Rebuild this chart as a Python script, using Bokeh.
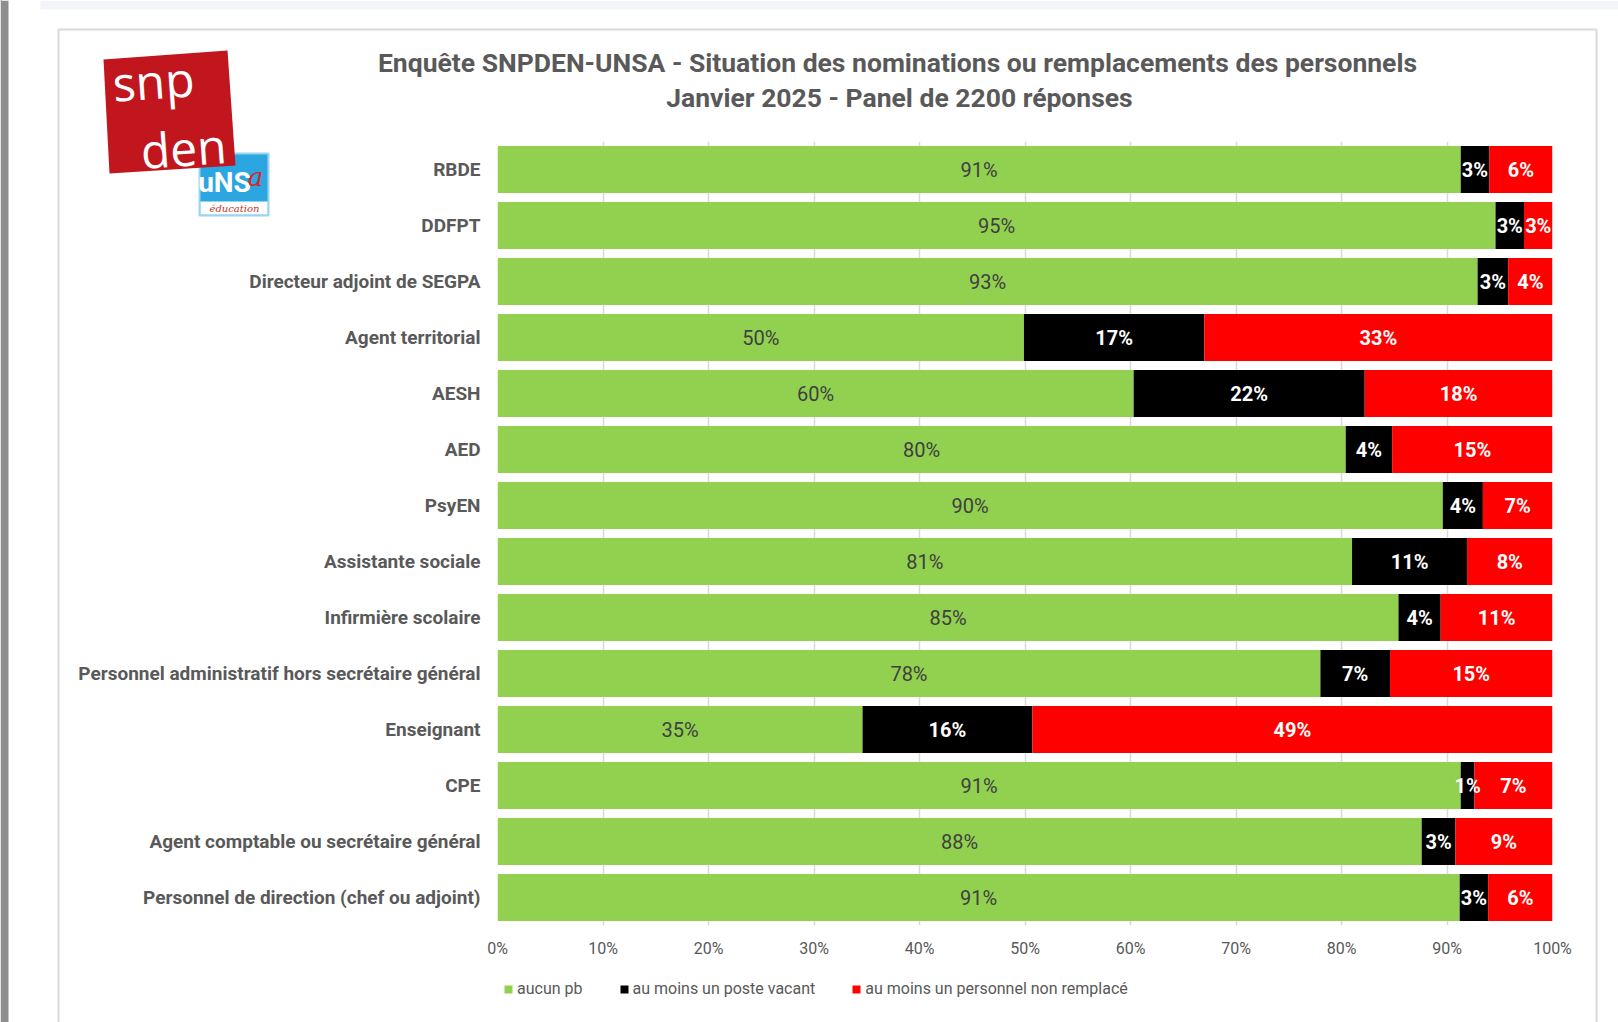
from bokeh.plotting import figure
from bokeh.models import (FactorRange, Range1d, ColumnDataSource, Legend, LegendItem,
                          FixedTicker, NumeralTickFormatter)
from bokeh.core.properties import value
from bokeh.embed import file_html
from bokeh.resources import INLINE

# ---------------- data ----------------
categories = [
    "RBDE",
    "DDFPT",
    "Directeur adjoint de SEGPA",
    "Agent territorial",
    "AESH",
    "AED",
    "PsyEN",
    "Assistante sociale",
    "Infirmière scolaire",
    "Personnel administratif hors secrétaire général",
    "Enseignant",
    "CPE",
    "Agent comptable ou secrétaire général",
    "Personnel de direction (chef ou adjoint)",
]
aucun_pb = [91.3, 94.6, 92.9, 49.9, 60.3, 80.4, 89.6, 81.0, 85.4, 78.0, 34.6, 91.3, 87.6, 91.2]
poste_vacant = [2.7, 2.7, 2.9, 17.1, 21.9, 4.4, 3.8, 10.9, 4.0, 6.6, 16.1, 1.3, 3.2, 2.7]
non_remplace = [6.0, 2.7, 4.2, 33.0, 17.8, 15.2, 6.6, 8.1, 10.6, 15.4, 49.3, 7.4, 9.2, 6.1]
series_names = ["aucun pb", "au moins un poste vacant", "au moins un personnel non remplacé"]
x_ticks = [0, 0.1, 0.2, 0.3, 0.4, 0.5, 0.6, 0.7, 0.8, 0.9, 1.0]
title_line1 = "Enquête SNPDEN-UNSA - Situation des nominations ou remplacements des personnels"
title_line2 = "Janvier 2025 - Panel de 2200 réponses"

# ---------------- derived columns ----------------
a = [v / 100 for v in aucun_pb]
b = [v / 100 for v in poste_vacant]
c = [v / 100 for v in non_remplace]
src = ColumnDataSource(dict(
    cat=categories, a=a, b=b, c=c,
    ax=[x / 2 for x in a],
    bx=[x + y / 2 for x, y in zip(a, b)],
    cx=[x + y + z / 2 for x, y, z in zip(a, b, c)],
    al=[f"{v:.0f}%" for v in aucun_pb],
    bl=[f"{v:.0f}%" for v in poste_vacant],
    cl=[f"{v:.0f}%" for v in non_remplace],
))

GREEN, BLACK, RED = "#92D050", "#000000", "#FF0000"
COLORS = [GREEN, BLACK, RED]
GRAY = "#595959"
W, H = 1618, 1022

# ---------------- main chart ----------------
p = figure(width=W, height=H,
           y_range=FactorRange(factors=categories[::-1]),
           x_range=Range1d(0, 1),
           output_backend="svg", toolbar_location=None,
           min_border_left=497, min_border_right=66,
           min_border_top=141, min_border_bottom=97)
p.outline_line_color = None
p.background_fill_color = "white"
p.border_fill_color = "white"

renderers = p.hbar_stack(["a", "b", "c"], y="cat", height=0.84,
                         color=COLORS, line_color=None, source=src)

p.text(x="ax", y="cat", text="al", source=src, text_align="center", text_baseline="middle",
       text_font=value("Roboto"), text_font_size="20px", text_color="#404040")
p.text(x="bx", y="cat", text="bl", source=src, text_align="center", text_baseline="middle",
       text_font=value("Roboto"), text_font_size="20px", text_color="white", text_font_style="bold")
p.text(x="cx", y="cat", text="cl", source=src, text_align="center", text_baseline="middle",
       text_font=value("Roboto"), text_font_size="20px", text_color="white", text_font_style="bold")

p.xaxis.ticker = FixedTicker(ticks=x_ticks)
p.xaxis.formatter = NumeralTickFormatter(format="0%")
p.xaxis.axis_line_color = None
p.xaxis.major_tick_line_color = None
p.xaxis.minor_tick_line_color = None
p.xaxis.major_tick_out = 0
p.xaxis.major_tick_in = 0
p.xaxis.major_label_text_font = "Roboto"
p.xaxis.major_label_text_font_size = "16px"
p.xaxis.major_label_text_color = GRAY
p.xaxis.major_label_standoff = 13

p.yaxis.axis_line_color = None
p.yaxis.major_tick_line_color = None
p.yaxis.minor_tick_line_color = None
p.yaxis.major_tick_out = 0
p.yaxis.major_tick_in = 0
p.yaxis.major_label_text_font = "Roboto"
p.yaxis.major_label_text_font_style = "bold"
p.yaxis.major_label_text_font_size = "19px"
p.yaxis.major_label_text_color = GRAY
p.yaxis.major_label_standoff = 17

p.xgrid.grid_line_color = "#D9D9D9"
p.xgrid.grid_line_width = 1.5
p.ygrid.grid_line_color = None

# ---------------- decoration overlay (pixel space, y downward) ----------------
ov = figure(width=W, height=H, x_range=Range1d(0, W), y_range=Range1d(H, 0),
            output_backend="svg", toolbar_location=None, min_border=0,
            x_axis_location=None, y_axis_location=None,
            styles={"position": "absolute", "left": "0px", "top": "0px"})
ov.xgrid.visible = False
ov.ygrid.visible = False
ov.outline_line_color = None
ov.background_fill_alpha = 0
ov.border_fill_alpha = 0

# page edges of the screenshot
ov.quad(left=[0], right=[8], top=[0], bottom=[H], fill_color="#8E8E8E", line_color=None)
ov.quad(left=[40], right=[W], top=[0], bottom=[9], fill_color="#F4F5FA", line_color=None)
# chart panel border
ov.line(x=[58, 58, 1596, 1596], y=[H + 5, 29, 29, H + 5], line_color="#D9D9D9", line_width=2)

# title
ov.text(x=[897, 899], y=[62, 97], text=[title_line1, title_line2],
        text_align="center", text_baseline="middle", text_font=value("Roboto"),
        text_font_style="bold", text_font_size="26.5px", text_color=GRAY)

# logo unsa education (behind the red square)
ov.quad(left=[199], right=[268], top=[153], bottom=[215], fill_color="#2CA6E0",
        line_color="#9AD4F2", line_width=2)
ov.quad(left=[200], right=[267], top=[201], bottom=[214], fill_color="white", line_color=None)
ov.text(x=[224], y=[182], text=["uNS"], text_align="center", text_baseline="middle",
        text_font=value("Roboto"), text_font_style="bold",
        text_font_size="28px", text_color="white")
ov.text(x=[255], y=[176], text=["a"], text_align="center", text_baseline="middle",
        text_font=value("DejaVu Serif"), text_font_style="italic",
        text_font_size="26px", text_color="#D8232A")
ov.text(x=[234], y=[208], text=["éducation"], text_align="center", text_baseline="middle",
        text_font=value("DejaVu Serif"), text_font_style="italic", text_font_size="10px",
        text_color="#C0392B")
# logo snpden
ov.patch(x=[103, 227, 235, 109], y=[59, 50, 165, 173], fill_color="#C1161D", line_color=None)
ov.text(x=[153, 183], y=[80, 147], text=["snp", "den"], angle=0.07,
        text_align="center", text_baseline="middle", text_font=value("Open Sans"),
        text_font_size="48px", text_color="white")

# legend (keys styled like the stacked series; key glyphs sit off-canvas)
keys = [ov.hbar(y=[-100], left=[0], right=[1], height=1, fill_color=col, line_color=None)
        for col in COLORS]
legend = Legend(items=[LegendItem(label=n, renderers=[r]) for n, r in zip(series_names, keys)],
                orientation="horizontal", location=(503, 24),
                glyph_width=10, glyph_height=10, label_standoff=4, spacing=36,
                label_text_font="Roboto", label_text_font_size="16px", label_text_color=GRAY,
                label_height=14, padding=0, margin=0,
                border_line_color=None, background_fill_alpha=0)
ov.add_layout(legend, "center")

html = file_html([p, ov], INLINE)
open("out.html", "w").write(html)
